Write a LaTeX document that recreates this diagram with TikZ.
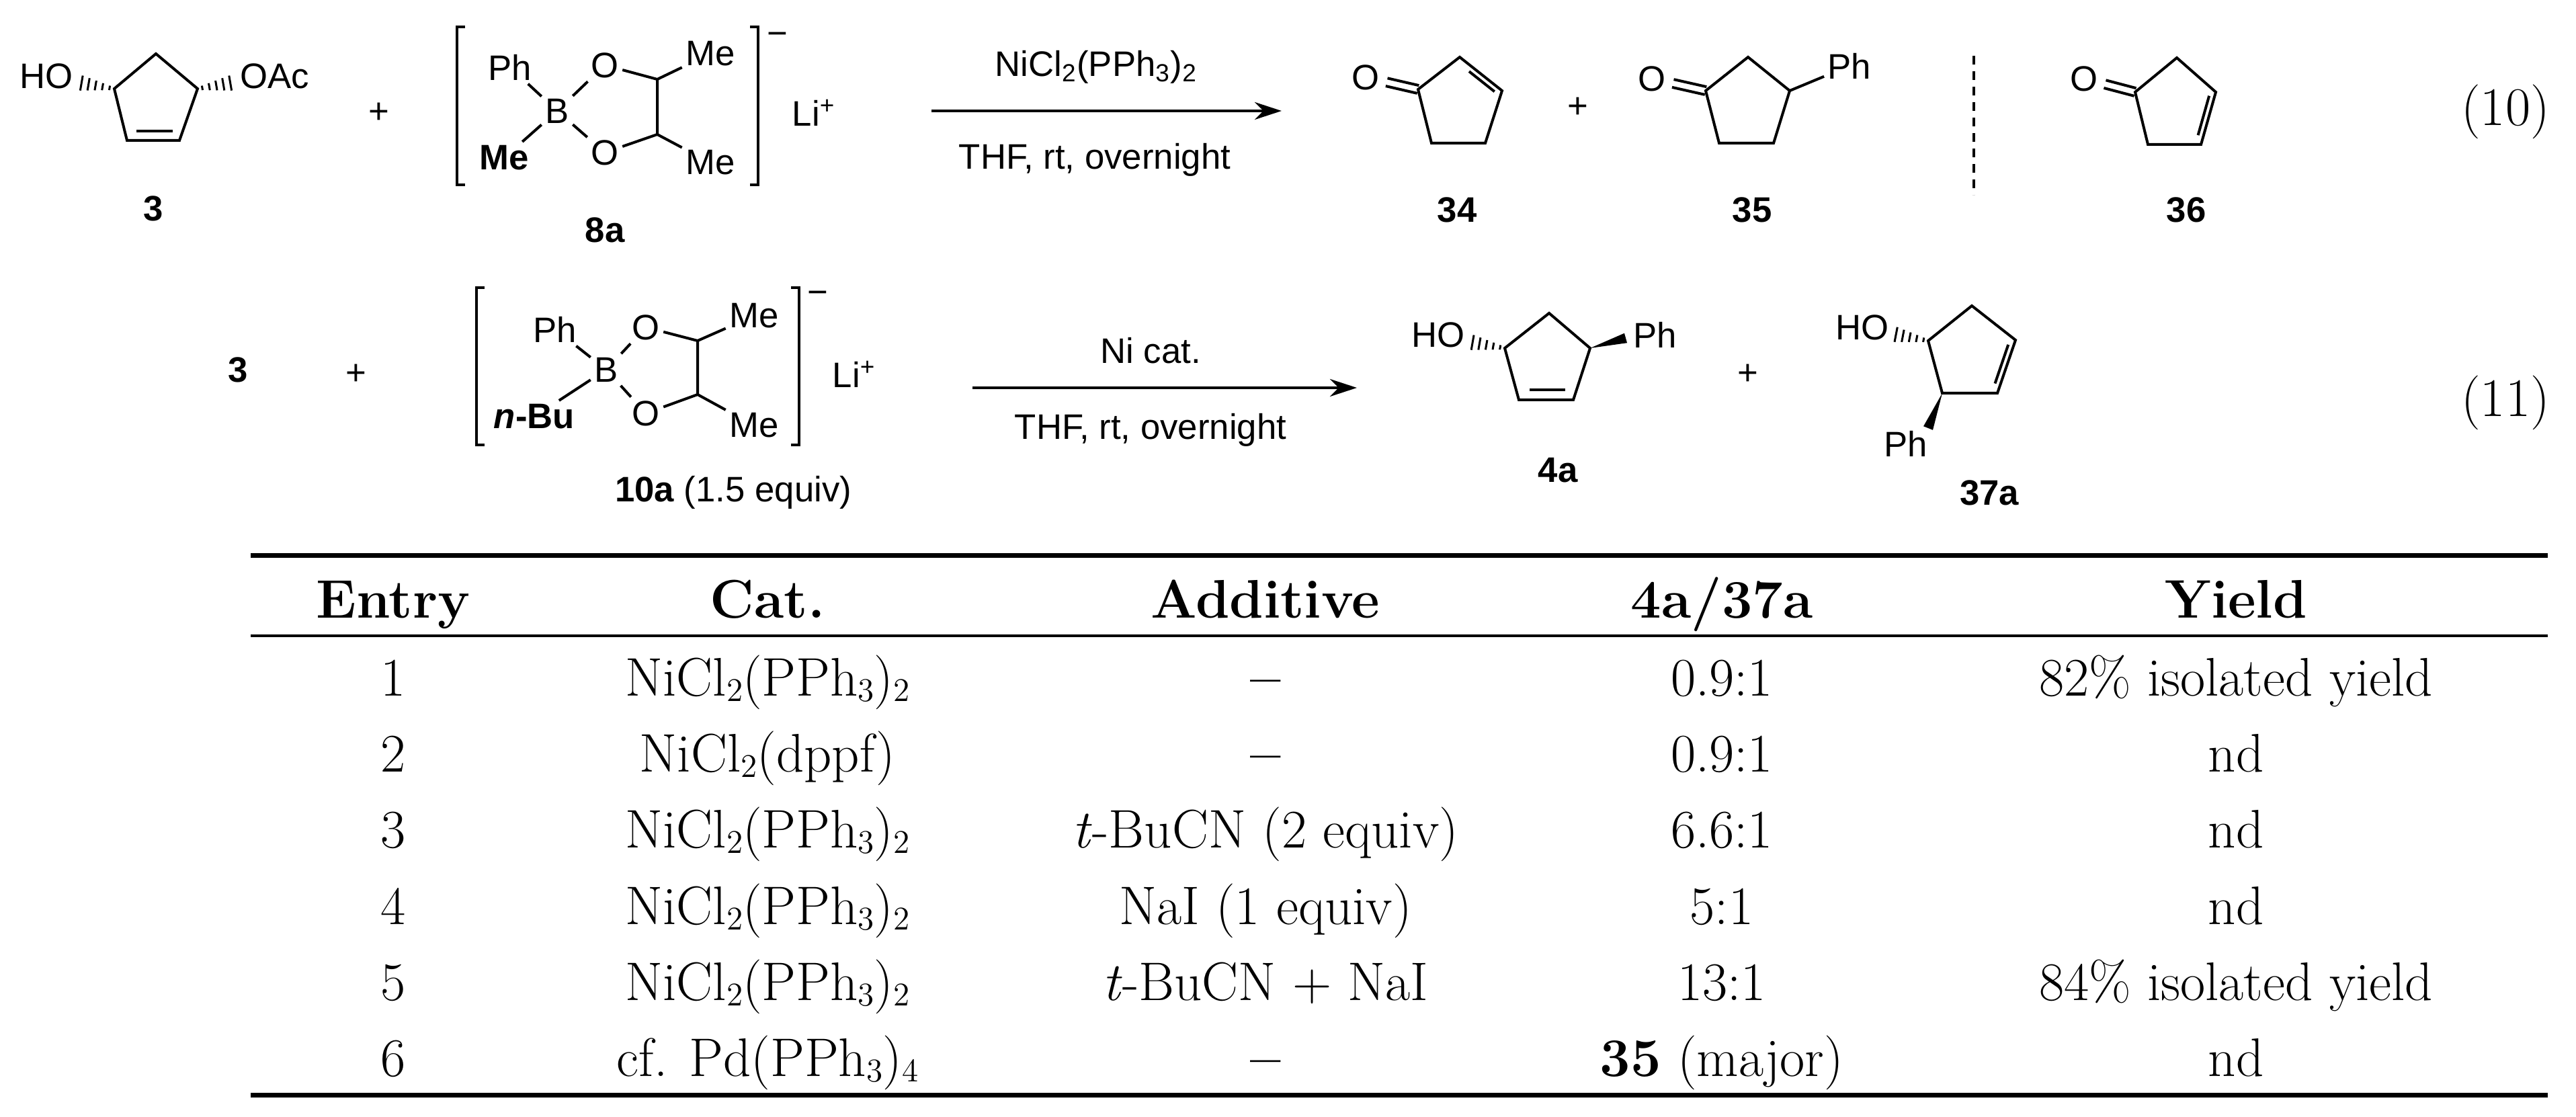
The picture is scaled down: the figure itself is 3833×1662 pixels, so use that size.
\documentclass[tikz,border=0pt]{standalone}
\usepackage{fontspec}
\newfontfamily\chem{Liberation Sans}
\usetikzlibrary{calc,arrows.meta}
\tikzset{
 x=0.1mm,y=-0.1mm,
 bond/.style={line width=0.4mm},
 atom/.style={inner sep=0.5mm,font=\chem\fontsize{15}{17}\selectfont},
 clabel/.style={inner sep=0pt,font=\chem\bfseries\fontsize{15}{17}\selectfont},
 tab/.style={anchor=base,inner sep=0pt,font=\fontsize{23}{26}\selectfont},
 tabh/.style={tab,font=\fontsize{23}{26}\selectfont\bfseries},
 rxn/.style={-{Stealth[length=4mm,width=2.6mm]},line width=0.4mm},
 eqn/.style={inner sep=0pt,font=\fontsize{23}{26}\selectfont},
}
\newcommand\hashb[2]{\foreach \t in {0.12,0.3,0.48,0.66,0.84}{\draw[line width=0.3mm] ($(#1)!\t!(#2)!{\t*1.1mm+0.2mm}!90:(#2)$) -- ($(#1)!\t!(#2)!{\t*1.1mm+0.2mm}!-90:(#2)$);}}
\newcommand\wedgeb[2]{\fill (#1) -- ($(#2)!0.75mm!90:(#1)$) -- ($(#2)!0.75mm!-90:(#1)$) -- cycle;}
\newcommand\sub[1]{\raisebox{-0.25ex}{\fontsize{14}{16}\selectfont #1}}
\begin{document}
\begin{tikzpicture}
\useasboundingbox (0,0) rectangle (3833,1662);
% ---------- compound 3 ----------
\coordinate (a1) at (232,80); \coordinate (a2) at (170,132); \coordinate (a3) at (294,132);
\coordinate (a4) at (267,209); \coordinate (a5) at (189,209);
\draw[bond,line join=miter] (a1)--(a2)--(a5)--(a4)--(a3)--cycle;
\coordinate (a6) at (203,195); \coordinate (a7) at (257,195);
\draw[bond] (a6)--(a7);
\node[atom,anchor=east] (ho3) at (114,113) {HO};
\node[atom,anchor=west] (oac3) at (352,113) {OAc};
\coordinate (h3a) at (112,122); \coordinate (h3b) at (352,122);
\hashb{a2}{h3a} \hashb{a3}{h3b}
\node[clabel] (l3) at (228,310) {3};
\node[atom] (p1) at (564,168) {+};
% ---------- 8a ----------
\node[atom] (b8) at (829,165) {B};
\node[atom] (ph8) at (759,100) {Ph};
\node[atom,font=\chem\bfseries\fontsize{15}{17}\selectfont] (me8) at (750,235) {Me};
\node[atom] (o8a) at (900,97) {O};
\node[atom] (o8b) at (900,227) {O};
\coordinate (c8a) at (978,118); \coordinate (c8b) at (978,200);
\node[atom] (me8a) at (1057,80) {Me};
\node[atom] (me8b) at (1057,242) {Me};
\draw[bond] (b8)--(ph8) (b8)--(me8) (b8)--(o8a) (b8)--(o8b) (o8a)--(c8a) (o8b)--(c8b) (c8a)--(c8b) (c8a)--(me8a) (c8b)--(me8b);
\draw[bond] (692,40)--(680,40)--(680,275)--(692,275);
\draw[bond] (1116,40)--(1128,40)--(1128,275)--(1116,275);
\node[atom] (neg8) at (1157,58) {\textminus};
\node[atom] (li8) at (1211,168) {Li\textsuperscript{+}};
\node[clabel] (l8a) at (900,342) {8a};
% ---------- arrow 1 ----------
\coordinate (ar1s) at (1386,165); \coordinate (ar1e) at (1907,165);
\draw[rxn] (ar1s)--(ar1e);
\node[atom] (cat1) at (1631,100) {NiCl\textsubscript{2}(PPh\textsubscript{3})\textsubscript{2}};
\node[atom] (cond1) at (1629,238) {THF, rt, overnight};
% ---------- 34 ----------
\node[atom] (o34) at (2032,115) {O};
\coordinate (k1) at (2110,133); \coordinate (k2) at (2172,85); \coordinate (k3) at (2235,135);
\coordinate (k4) at (2210,213); \coordinate (k5) at (2130,213);
\draw[bond,line join=miter] (k1)--(k2)--(k3)--(k4)--(k5)--cycle;
\draw[bond] ($(k2)!0.3!(k3)!0.8mm!-90:(k3)$)--($(k2)!0.9!(k3)!0.8mm!-90:(k3)$);
\draw[bond] ($(k1)!0.6mm!90:(o34)$)--($(o34.center)!3.2mm!(k1)!0.6mm!-90:(k1)$);
\draw[bond] ($(k1)!0.6mm!-90:(o34)$)--($(o34.center)!3.2mm!(k1)!0.6mm!90:(k1)$);
\node[clabel] (l34) at (2168,312) {34};
\node[atom] (p2) at (2348,160) {+};
% ---------- 35 ----------
\node[atom] (o35) at (2458,117) {O};
\coordinate (m1) at (2538,135); \coordinate (m2) at (2601,85); \coordinate (m3) at (2663,135);
\coordinate (m4) at (2639,213); \coordinate (m5) at (2558,213);
\draw[bond,line join=miter] (m1)--(m2)--(m3)--(m4)--(m5)--cycle;
\node[atom] (ph35) at (2752,98) {Ph};
\draw[bond] (m3)--(ph35);
\draw[bond] ($(m1)!0.6mm!90:(o35)$)--($(o35.center)!3.2mm!(m1)!0.6mm!-90:(m1)$);
\draw[bond] ($(m1)!0.6mm!-90:(o35)$)--($(o35.center)!3.2mm!(m1)!0.6mm!90:(m1)$);
\node[clabel] (l35) at (2607,312) {35};
\coordinate (ds1) at (2937,83); \coordinate (ds2) at (2937,290);
\draw[line width=0.35mm,dash pattern=on 1.3mm off 1mm] (ds1)--(ds2);
% ---------- 36 ----------
\node[atom] (o36) at (3101,117) {O};
\coordinate (n1) at (3177,137); \coordinate (n2) at (3239,86); \coordinate (n3) at (3297,137);
\coordinate (n4) at (3275,215); \coordinate (n5) at (3196,215);
\draw[bond,line join=miter] (n1)--(n2)--(n3)--(n4)--(n5)--cycle;
\draw[bond] ($(n3)!0.1!(n4)!0.8mm!-90:(n4)$)--($(n3)!0.85!(n4)!0.8mm!-90:(n4)$);
\draw[bond] ($(n1)!0.6mm!90:(o36)$)--($(o36.center)!3.2mm!(n1)!0.6mm!-90:(n1)$);
\draw[bond] ($(n1)!0.6mm!-90:(o36)$)--($(o36.center)!3.2mm!(n1)!0.6mm!90:(n1)$);
\node[clabel] (l36) at (3253,312) {36};
\node[eqn] (eq10) at (3728,166) {(10)};
% ---------- row 2 ----------
\node[clabel] (r3) at (354,550) {3};
\node[atom] (p3) at (530,557) {+};
\node[atom] (b10) at (902,550) {B};
\node[atom] (ph10) at (826,490) {Ph};
\node[atom,font=\chem\bfseries\fontsize{15}{17}\selectfont] (bu10) at (795,620) {\textit{n}-Bu};
\node[atom] (o10a) at (961,487) {O};
\node[atom] (o10b) at (961,615) {O};
\coordinate (c10a) at (1038,507); \coordinate (c10b) at (1038,587);
\node[atom] (me10a) at (1122,470) {Me};
\node[atom] (me10b) at (1122,633) {Me};
\draw[bond] (b10)--(ph10) (b10)--(bu10) (b10)--(o10a) (b10)--(o10b) (o10a)--(c10a) (o10b)--(c10b) (c10a)--(c10b) (c10a)--(me10a) (c10b)--(me10b);
\draw[bond] (721,428)--(709,428)--(709,662)--(721,662);
\draw[bond] (1177,428)--(1189,428)--(1189,662)--(1177,662);
\node[atom] (neg10) at (1217,443) {\textminus};
\node[atom] (li10) at (1271,557) {Li\textsuperscript{+}};
\node[inner sep=0pt,font=\chem\fontsize{15}{17}\selectfont] (l10a) at (1091,733) {\textbf{10a} (1.5 equiv)};
\coordinate (ar2s) at (1447,577); \coordinate (ar2e) at (2019,577);
\draw[rxn] (ar2s)--(ar2e);
\node[atom] (cat2) at (1712,522) {Ni cat.};
\node[atom] (cond2) at (1712,640) {THF, rt, overnight};
% ---------- 4a ----------
\coordinate (q1) at (2305,466); \coordinate (q2) at (2239,518); \coordinate (q3) at (2366,518);
\coordinate (q4) at (2341,595); \coordinate (q5) at (2260,595);
\draw[bond,line join=miter] (q1)--(q2)--(q5)--(q4)--(q3)--cycle;
\coordinate (q6) at (2276,580); \coordinate (q7) at (2329,580);
\draw[bond] (q6)--(q7);
\node[atom,anchor=east] (ho4) at (2185,498) {HO};
\coordinate (h4) at (2182,508); \hashb{q2}{h4}
\node[atom,anchor=west] (ph4) at (2425,498) {Ph};
\coordinate (w4) at (2419,503); \wedgeb{q3}{w4}
\node[clabel] (l4a) at (2318,700) {4a};
\node[atom] (p4) at (2601,557) {+};
% ---------- 37a ----------
\coordinate (s1) at (2934,455); \coordinate (s2) at (2869,507); \coordinate (s3) at (2999,506);
\coordinate (s4) at (2972,585); \coordinate (s5) at (2890,585);
\draw[bond,line join=miter] (s1)--(s2)--(s5)--(s4)--(s3)--cycle;
\draw[bond] ($(s3)!0.12!(s4)!0.8mm!-90:(s4)$)--($(s3)!0.85!(s4)!0.8mm!-90:(s4)$);
\node[atom,anchor=east] (ho37) at (2816,487) {HO};
\coordinate (h37) at (2812,496); \hashb{s2}{h37}
\node[atom] (ph37) at (2836,660) {Ph};
\coordinate (w37) at (2869,637); \wedgeb{s5}{w37}
\node[clabel] (l37a) at (2960,733) {37a};
\node[eqn] (eq11) at (3728,599) {(11)};
% ---------- table ----------
\coordinate (tl1) at (373,826); \coordinate (tr1) at (3791,826);
\coordinate (tl2) at (373,946); \coordinate (tr2) at (3791,946);
\coordinate (tl3) at (373,1629); \coordinate (tr3) at (3791,1629);
\draw[line width=0.7mm] (tl1)--(tr1);
\draw[line width=0.45mm] (tl2)--(tr2);
\draw[line width=0.7mm] (tl3)--(tr3);
\node[tabh] (h1) at (585,919) {Entry};
\node[tabh] (h2) at (1142,919) {Cat.};
\node[tabh] (h3) at (1883,919) {Additive};
\node[tabh] (h4) at (2562,919) {4a/37a};
\node[tabh] (h5) at (3327,919) {Yield};
\foreach \y/\e/\c/\a/\r/\yl [count=\i] in {
 1035/1/{NiCl\sub{2}(PPh\sub{3})\sub{2}}/{\textbf{--}}/{0.9:1}/{82\% isolated yield},
 1148/2/{NiCl\sub{2}(dppf)}/{\textbf{--}}/{0.9:1}/nd,
 1261/3/{NiCl\sub{2}(PPh\sub{3})\sub{2}}/{\textit{t}-BuCN (2 equiv)}/{6.6:1}/nd,
 1375/4/{NiCl\sub{2}(PPh\sub{3})\sub{2}}/{NaI (1 equiv)}/{5:1}/nd,
 1488/5/{NiCl\sub{2}(PPh\sub{3})\sub{2}}/{\textit{t}-BuCN + NaI}/{13:1}/{84\% isolated yield},
 1601/6/{cf. Pd(PPh\sub{3})\sub{4}}/{\textbf{--}}/{\textbf{35} (major)}/nd}{
 \node[tab] (e\i) at (585,\y) {\e};
 \node[tab] (c\i) at (1142,\y) {\c};
 \node[tab] (d\i) at (1883,\y) {\a};
 \node[tab] (r\i) at (2562,\y) {\r};
 \node[tab] (y\i) at (3327,\y) {\yl};
}
\end{tikzpicture}
\end{document}
